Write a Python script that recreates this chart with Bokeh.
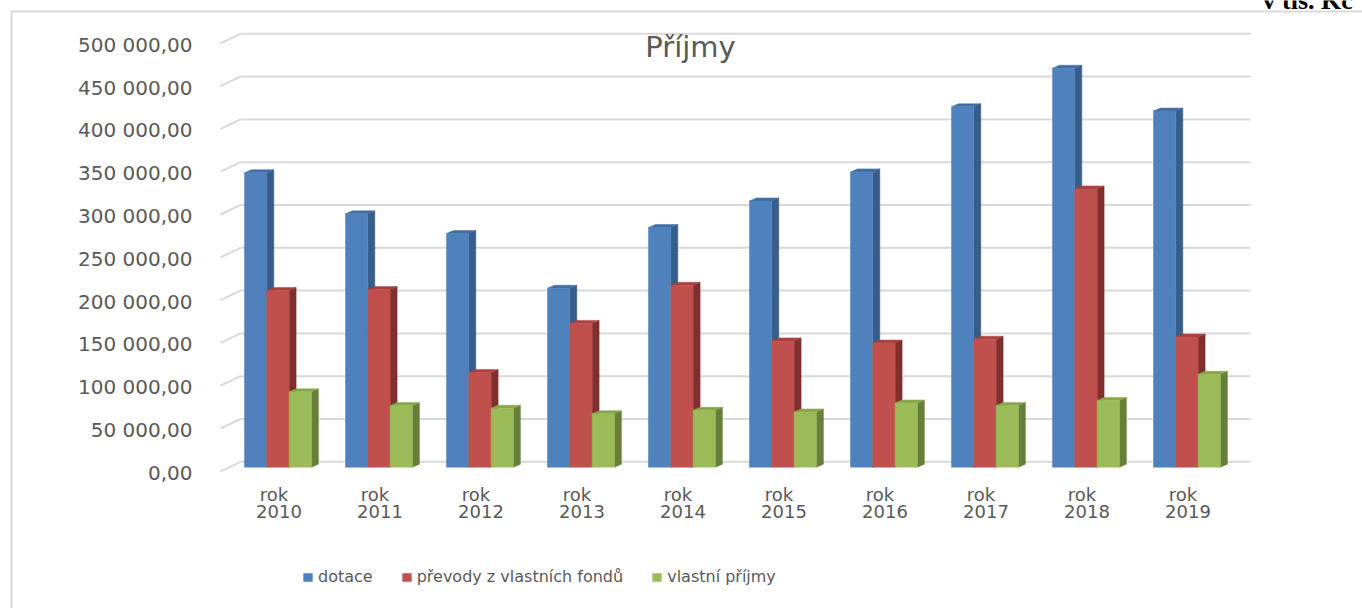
from bokeh.plotting import figure
from bokeh.models import Range1d, Legend, LegendItem
from bokeh.core.properties import value
from bokeh.embed import file_html
from bokeh.resources import INLINE

# ---------------- data ----------------
CATEGORIES = ["rok 2010", "rok 2011", "rok 2012", "rok 2013", "rok 2014",
              "rok 2015", "rok 2016", "rok 2017", "rok 2018", "rok 2019"]
SERIES = ["dotace", "převody z vlastních fondů", "vlastní příjmy"]
DOTACE = [344000, 296000, 273000, 209000, 280000, 311000, 345000, 421000, 466000, 416000]
PREVODY = [206500, 207500, 110500, 168000, 212500, 147500, 145000, 149500, 325000, 152000]
VLASTNI = [88000, 72000, 69000, 62500, 66500, 64500, 75000, 72000, 78000, 108500]
Y_TICKS = [0, 50000, 100000, 150000, 200000, 250000, 300000, 350000, 400000, 450000, 500000]
Y_TICK_LABELS = ["0,00", "50 000,00", "100 000,00", "150 000,00", "200 000,00",
                 "250 000,00", "300 000,00", "350 000,00", "400 000,00", "450 000,00",
                 "500 000,00"]
TITLE = "Příjmy"
UNIT_NOTE = "v tis. Kč"

# ---------------- layout / style ----------------
W, H = 1362, 608
CAT_PX = 101.0          # px per category on the back wall
WALL_X0 = 240.0         # x of back wall start
ZERO_Y = 461.3          # y of zero on back wall
PX_PER_VAL = 42.8 / 50000.0

def ux(sx):
    return (sx - WALL_X0) / CAT_PX

def vy(sy):
    return (ZERO_Y - sy) / PX_PER_VAL

def dux(px):
    return px / CAT_PX

def dvy(px):
    return px / PX_PER_VAL

FRONT = ["#4F81BD", "#C0504D", "#9BBB59"]
SIDE = ["#385D8A", "#7F302E", "#687F3A"]
TOPC = ["#416DA4", "#A9423F", "#87A64B"]
GRID = "#D9D9D9"
TXT = "#595959"
FONT = value("DejaVu Sans")

p = figure(width=W, height=H,
           x_range=Range1d(ux(0), ux(W)),
           y_range=Range1d(vy(H), vy(0)),
           x_axis_location=None, y_axis_location=None,
           toolbar_location=None, output_backend="svg",
           min_border=0, outline_line_color=None,
           background_fill_color="white", border_fill_color="white")
p.xgrid.visible = False
p.ygrid.visible = False

n = len(CATEGORIES)
nt = len(Y_TICKS)

# chart border
p.segment(x0=[ux(10)], x1=[ux(1400)], y0=[vy(11)], y1=[vy(11)], line_color=GRID, line_width=2)
p.segment(x0=[ux(11)], x1=[ux(11)], y0=[vy(11)], y1=[vy(700)], line_color=GRID, line_width=2)

# back wall gridlines and side wall lines
p.segment(x0=[0] * nt, x1=[n] * nt, y0=Y_TICKS, y1=Y_TICKS, line_color=GRID, line_width=2)
p.segment(x0=[0] * nt, x1=[dux(-20)] * nt, y0=Y_TICKS,
          y1=[t - dvy(9.5) for t in Y_TICKS], line_color=GRID, line_width=2)

# 3D-looking columns
BAR_OFF = dux(4.0)
BAR_W = dux(22.3)
DX = dux(7.0)
DY = dvy(3.0)
DROP = dvy(5.4)

fronts = []
for j, vals in enumerate([DOTACE, PREVODY, VLASTNI]):
    left = [i + BAR_OFF + j * BAR_W for i in range(n)]
    right = [l + BAR_W for l in left]
    bottom = [-DROP] * n
    top = [v - DROP for v in vals]
    side_xs = [[r, r + DX, r + DX, r] for r in right]
    side_ys = [[b, b + DY, t + DY, t] for b, t in zip(bottom, top)]
    top_xs = [[l, r, r + DX, l + DX] for l, r in zip(left, right)]
    top_ys = [[t, t, t + DY, t + DY] for t in top]
    p.patches(xs=side_xs, ys=side_ys, fill_color=SIDE[j], line_color=SIDE[j], line_width=0.5)
    p.patches(xs=top_xs, ys=top_ys, fill_color=TOPC[j], line_color=TOPC[j], line_width=0.5)
    r = p.quad(left=left, right=right, bottom=bottom, top=top,
               fill_color=FRONT[j], line_color=FRONT[j], line_width=0.5)
    fronts.append(r)

# y tick labels
p.text(x=[ux(192)] * nt, y=[t - dvy(11) for t in Y_TICKS], text=Y_TICK_LABELS,
       text_font=FONT, text_font_size="20px", text_color=TXT,
       text_align="right", text_baseline="alphabetic")

# category labels (two lines)
cx = [i + dux(278.5 - WALL_X0) for i in range(n)]
line1 = [c.split(" ")[0] for c in CATEGORIES]
line2 = [c.split(" ")[1] for c in CATEGORIES]
p.text(x=[x - dux(5) for x in cx], y=[vy(494)] * n, text=line1, text_font=FONT,
       text_font_size="18px", text_color=TXT, text_align="center", text_baseline="alphabetic")
p.text(x=cx, y=[vy(511)] * n, text=line2, text_font=FONT, text_font_size="18px",
       text_color=TXT, text_align="center", text_baseline="alphabetic")

# title
p.text(x=[ux(690)], y=[vy(46.5)], text=[TITLE], text_font=FONT, text_font_size="29px",
       text_color=TXT, text_align="center", text_baseline="alphabetic")

# unit note (cut at the top, as in the source)
p.text(x=[ux(1262)], y=[vy(0)], text=[UNIT_NOTE], text_font=value("Liberation Serif"),
       text_font_size="26px", text_font_style="bold", text_color="black",
       text_align="left", text_baseline="alphabetic")

legend = Legend(items=[LegendItem(label=SERIES[j], renderers=[fronts[j]]) for j in range(3)],
                orientation="horizontal", location=(302, 22),
                label_text_font="DejaVu Sans", label_text_font_size="16px",
                label_text_color=TXT, glyph_width=11, glyph_height=10,
                label_standoff=5, spacing=28, padding=0, margin=0,
                border_line_color=None, background_fill_alpha=0)
p.add_layout(legend)

open("out.html", "w").write(file_html(p, INLINE))
